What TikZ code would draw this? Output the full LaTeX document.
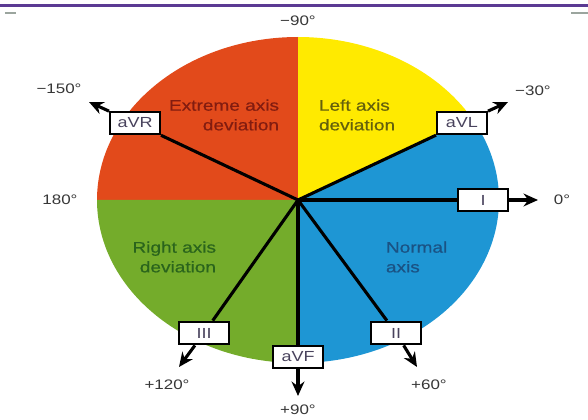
\documentclass[tikz,border=0pt]{standalone}
\usepackage{fontspec}
\setmainfont{Liberation Sans}[FakeStretch=1.23]
\newfontfamily\zonefont{Liberation Sans}[FakeStretch=1.23, FakeBold=0.5]
\usetikzlibrary{arrows.meta}
\definecolor{sectred}{RGB}{226,74,27}
\definecolor{sectyellow}{RGB}{255,234,0}
\definecolor{sectblue}{RGB}{30,150,212}
\definecolor{sectgreen}{RGB}{116,172,43}
\definecolor{txtred}{RGB}{130,28,16}
\definecolor{txtolive}{RGB}{100,96,12}
\definecolor{txtgreen}{RGB}{42,100,28}
\definecolor{txtblue}{RGB}{26,82,132}
\definecolor{degtext}{RGB}{55,55,55}
\definecolor{boxtext}{RGB}{72,66,92}
\definecolor{rulepurple}{RGB}{91,58,147}
\definecolor{rulegray}{RGB}{155,165,158}

\begin{document}
\begin{tikzpicture}[x=0.025cm, y=-0.025cm,
  lead/.style={line width=2.2pt, black},
  arr/.style={lead, -{Stealth[length=3.6mm, width=3.2mm]}},
  leadbox/.style={draw, line width=1.4pt, fill=white, minimum width=1.25cm, minimum height=0.57cm, inner sep=1pt, font=\fontsize{10.4}{12}\selectfont, text=boxtext},
  deg/.style={font=\fontsize{9.8}{11}\selectfont, text=degtext},
  zone/.style={font=\zonefont\fontsize{11}{14}\selectfont, align=left}
]
\useasboundingbox (0,0) rectangle (588,420);

% top rule
\draw[rulepurple, line width=1.5pt] (0,5.5) -- (588,5.5);
\draw[rulegray, line width=1.6pt] (5,13) -- (16,13);
\draw[rulegray, line width=1.6pt] (571,13) -- (588,13);

% sectors
\coordinate (O) at (298,200);
\fill[sectred] (O) -- (97,200) arc[start angle=180, end angle=270, x radius=201, y radius=163] -- cycle;
\fill[sectyellow] (O) -- (298,37) arc[start angle=270, end angle=330, x radius=201, y radius=163] -- cycle;
\fill[sectblue] (O) -- (472.07,118.5) arc[start angle=-30, end angle=90, x radius=201, y radius=163] -- cycle;
\fill[sectgreen] (O) -- (298,363) arc[start angle=90, end angle=180, x radius=201, y radius=163] -- cycle;

\node[zone, text=txtred, align=right, anchor=east] (extreme) at (284,115) {Extreme axis\\deviation};
\node[zone, text=txtolive, anchor=west] (leftdev) at (314,115) {Left axis\\deviation};
\node[zone, text=txtgreen, align=right, anchor=east] (rightdev) at (221,257) {Right axis\\deviation};
\node[zone, text=txtblue, anchor=west] (normal) at (381,257) {Normal\\axis};

% leads
\node[leadbox] (I) at (483,200) {I};
\node[leadbox] (aVL) at (462,123) {aVL};
\node[leadbox] (aVR) at (135,123) {aVR};
\node[leadbox] (III) at (204,333) {III};
\node[leadbox] (II) at (396,333) {II};
\node[leadbox] (aVF) at (298,357) {aVF};

\coordinate (tipI) at (538,200);
\coordinate (tipaVL) at (508,102);
\coordinate (tipaVR) at (89,102);
\coordinate (tipIII) at (179,367);
\coordinate (tipII) at (417,367);
\coordinate (tipaVF) at (298,396);

\draw[lead] (O) -- (I);
\draw[lead] (O) -- (aVL);
\draw[lead] (O) -- (aVR);
\draw[lead] (O) -- (III);
\draw[lead] (O) -- (II);
\draw[lead] (O) -- (aVF);
\draw[arr] (I) -- (tipI);
\draw[arr] (aVL) -- (tipaVL);
\draw[arr] (aVR) -- (tipaVR);
\draw[arr] (III) -- (tipIII);
\draw[arr] (II) -- (tipII);
\draw[arr] (aVF) -- (tipaVF);

% angles
\node[deg] (m90) at (298,21) {−90°};
\node[deg] (m150) at (59,89) {−150°};
\node[deg] (m30) at (533,91) {−30°};
\node[deg] (d180) at (60,200) {180°};
\node[deg] (d0) at (562,200) {0°};
\node[deg] (p120) at (167,385) {+120°};
\node[deg] (p60) at (429,385) {+60°};
\node[deg] (p90) at (298,410) {+90°};
\end{tikzpicture}
\end{document}
